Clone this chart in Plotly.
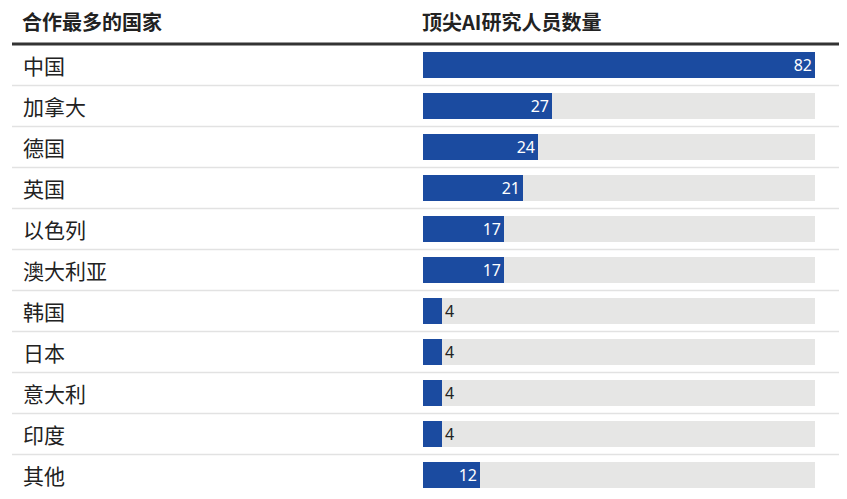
import plotly.graph_objects as go

countries = ["中国", "加拿大", "德国", "英国", "以色列", "澳大利亚", "韩国", "日本", "意大利", "印度", "其他"]
values = [82, 27, 24, 21, 17, 17, 4, 4, 4, 4, 12]
header_left = "合作最多的国家"
header_right = "顶尖AI研究人员数量"
max_value = 82

W, H = 847, 499
OFF = 8  # default page body margin
BLUE = "#1b4ba0"
GRAY_BG = "#e6e6e5"
CJK = "Noto Sans CJK SC"


def px_x(p):
    return (p - OFF) / W


def px_y(p):
    return 1 - (p - OFF) / H


n = len(countries)
ypos = list(range(n))
row_px = 41.0
first_px = 65.0 - OFF
a = -first_px / row_px
b = a + H / row_px

fig = go.Figure()
fig.add_trace(go.Bar(
    y=ypos, x=[max_value] * n, orientation="h",
    marker=dict(color=GRAY_BG, line=dict(width=0)),
    width=26 / row_px, hoverinfo="skip", showlegend=False,
))
inside = [v >= 10 for v in values]
fig.add_trace(go.Bar(
    y=ypos, x=values, orientation="h",
    marker=dict(color=BLUE, line=dict(width=0)),
    width=26 / row_px,
    text=[str(v) for v in values],
    textposition=["inside" if i else "outside" for i in inside],
    insidetextanchor="end",
    textangle=0,
    constraintext="none",
    textfont=dict(family="Noto Sans, sans-serif", size=16,
                  color=["white" if i else "#222222" for i in inside]),
    cliponaxis=False, showlegend=False,
))

fig.update_layout(
    width=W, height=H,
    margin=dict(l=0, r=0, t=0, b=0),
    plot_bgcolor="white", paper_bgcolor="white",
    barmode="overlay", bargap=0,
    xaxis=dict(domain=[px_x(423), px_x(815)], range=[0, max_value], visible=False, fixedrange=True),
    yaxis=dict(domain=[0, 1], range=[b, a], visible=False, fixedrange=True),
)

annotations = []
for i, c in enumerate(countries):
    annotations.append(dict(
        x=px_x(21), xref="paper", y=i, yref="y", text=c, showarrow=False,
        xanchor="left", yanchor="middle",
        font=dict(family=CJK, size=21, color="#222222"),
    ))
for txt, xp in [(header_left, 21), (header_right, 421)]:
    annotations.append(dict(
        x=px_x(xp), xref="paper", y=px_y(21.5), yref="paper", text="<b>" + txt + "</b>",
        showarrow=False, xanchor="left", yanchor="middle", borderpad=0,
        font=dict(family=CJK, size=20, color="#222222"),
    ))
fig.update_layout(annotations=annotations)

shapes = [dict(type="line", xref="paper", yref="paper", x0=px_x(12), x1=px_x(845),
               y0=px_y(44), y1=px_y(44), line=dict(color="#333333", width=3))]
for i in range(n - 1):
    shapes.append(dict(type="line", xref="paper", yref="y", x0=px_x(12), x1=px_x(845),
                       y0=i + 0.5, y1=i + 0.5, line=dict(color="#e2e2e2", width=1.5)))
fig.update_layout(shapes=shapes)

fig.write_html("out.html")
